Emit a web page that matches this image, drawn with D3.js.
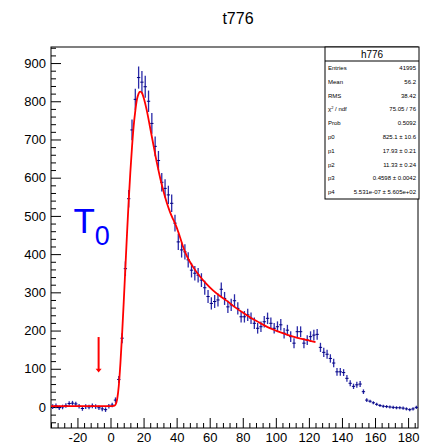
<!DOCTYPE html>
<html>
<head>
<meta charset="utf-8">
<script src="https://cdn.jsdelivr.net/npm/d3@7"></script>
<style>
    body { margin: 0; background: #fff; }
    svg { font-family: "Liberation Sans", Arial, sans-serif; }
</style>
</head>
<body>
<svg id="chart"></svg>
<script>
// histogram t776, 2-unit bins starting at -36
const binLow = -36;
const binWidth = 2;

const counts = [
    1, 3, -2, 0, 4, 9, 10, 8, 2, -4, 1, 0, 3, 1, -2, -5, -7, 2,
    5, 18, 72, 180, 362, 545, 725, 805, 862, 850, 838, 800, 742, 682, 645, 588,
    572, 555, 533, 481, 432, 411, 406, 385, 358, 350, 345, 332, 312, 289, 271, 276,
    280, 308, 284, 262, 267, 278, 258, 236, 236, 241, 232, 219, 206, 210, 223, 232,
    219, 206, 210, 215, 193, 201, 184, 167, 197, 197, 167, 175, 184, 188, 190, 156,
    143, 138, 127, 115, 92, 92, 90, 75, 62, 54, 58, 60, 40, 18, 15, 11,
    7, 4, 2, 1, 0, -1, -2, -2, -3, -5, -7, -5, -1
];

const errors = [
    6, 6, 6, 6, 6, 6, 6, 6, 6, 6, 6, 6, 6, 6, 6, 6, 6, 6,
    6, 7, 9, 13, 19, 23, 27, 28, 29, 29, 29, 28, 27, 26, 25, 24,
    24, 24, 23, 22, 21, 20, 20, 20, 19, 19, 19, 18, 18, 17, 16, 17,
    17, 18, 17, 16, 16, 17, 16, 15, 15, 16, 15, 15, 14, 14, 15, 15,
    15, 14, 14, 15, 14, 14, 14, 13, 14, 14, 13, 13, 14, 14, 14, 12,
    12, 12, 11, 11, 10, 10, 9, 9, 8, 7, 8, 8, 6, 5, 4, 4,
    4, 4, 4, 4, 4, 4, 4, 4, 4, 4, 4, 4, 4
];

// fit curve (x, y)
const fitX = [-36, -10, 0, 2, 3, 4, 5, 6, 7, 8, 9, 10, 11, 12, 13, 14, 15, 16, 17, 18, 19, 20,
    22, 24, 26, 28, 30, 32, 34, 36, 38, 40, 42, 44, 46, 48, 50, 54, 58, 62, 66, 70, 75,
    80, 85, 90, 95, 100, 105, 110, 115, 120, 124];
const fitY = [2, 2, 2, 3, 6, 20, 55, 115, 190, 275, 365, 455, 540, 615, 680, 735, 775, 805, 820, 825, 822, 810,
    775, 730, 685, 640, 600, 565, 535, 510, 490, 470, 445, 418, 397, 380, 366, 342, 322, 305, 291, 279, 262,
    247, 233, 221, 209, 200, 192, 185, 179, 174, 170];

const statLabels = ['Entries', 'Mean', 'RMS', 'chi2', 'Prob', 'p0', 'p1', 'p2', 'p3', 'p4'];
const statValues = ['41995', '56.2', '38.42', '75.05 / 76', '0.5092', '825.1 \u00b1 10.6',
    '17.93 \u00b1 0.21', '11.33 \u00b1 0.24', '0.4598 \u00b1 0.0042', '5.531e-07 \u00b1 5.605e+02'];

const W = 426, H = 447;
const frame = {left: 51, right: 418, top: 47, bottom: 428};

const svg = d3.select('#chart').attr('width', W).attr('height', H);

const x = d3.scaleLinear().domain([-36, 186]).range([frame.left, frame.right]);
const y = d3.scaleLinear().domain([-55, 942]).range([frame.bottom, frame.top]);

// title
svg.append('text')
    .attr('x', 238).attr('y', 24)
    .attr('text-anchor', 'middle')
    .style('font-size', '16px')
    .text('t776');

// minor ticks
const xMinor = d3.range(-36, 187, 4).filter(v => v % 20 !== 0);
const yMinor = d3.range(-40, 941, 20).filter(v => v % 100 !== 0);

svg.append('g')
    .attr('transform', `translate(0,${frame.bottom})`)
    .call(d3.axisBottom(x).tickValues(xMinor).tickSize(-5).tickFormat(''))
    .call(g => g.select('.domain').remove());

svg.append('g')
    .attr('transform', `translate(${frame.left},0)`)
    .call(d3.axisLeft(y).tickValues(yMinor).tickSize(-5).tickFormat(''))
    .call(g => g.select('.domain').remove());

// major ticks + labels (plain hyphen for negatives, like ROOT)
svg.append('g')
    .attr('transform', `translate(0,${frame.bottom})`)
    .call(d3.axisBottom(x).tickValues(d3.range(-20, 181, 20)).tickSize(-10).tickPadding(4.5)
        .tickFormat(d => String(d)))
    .call(g => g.select('.domain').remove())
    .call(g => g.selectAll('text').style('font-size', '13px').attr('fill', '#000'));

svg.append('g')
    .attr('transform', `translate(${frame.left},0)`)
    .call(d3.axisLeft(y).tickValues(d3.range(0, 901, 100)).tickSize(-10).tickPadding(5)
        .tickFormat(d => String(d)))
    .call(g => g.select('.domain').remove())
    .call(g => g.selectAll('text').style('font-size', '13px').attr('fill', '#000'));

// frame
svg.append('rect')
    .attr('x', frame.left).attr('y', frame.top)
    .attr('width', frame.right - frame.left)
    .attr('height', frame.bottom - frame.top)
    .attr('fill', 'none').attr('stroke', '#000').attr('stroke-width', 1);

const plot = svg.append('g');

// data points with error bars
const bins = counts.map((v, i) => ({
    c: binLow + binWidth * (i + 0.5),
    v: v,
    e: errors[i]
}));

plot.selectAll('.ebar')
    .data(bins)
    .join('line')
    .attr('class', 'ebar')
    .attr('x1', d => x(d.c)).attr('x2', d => x(d.c))
    .attr('y1', d => y(d.v - d.e)).attr('y2', d => y(d.v + d.e))
    .attr('stroke', '#2a2aa8').attr('stroke-width', 1.3);

plot.selectAll('.hbar')
    .data(bins)
    .join('line')
    .attr('class', 'hbar')
    .attr('x1', d => x(d.c - binWidth / 2)).attr('x2', d => x(d.c + binWidth / 2))
    .attr('y1', d => y(d.v)).attr('y2', d => y(d.v))
    .attr('stroke', '#000080').attr('stroke-width', 1);

// fit
const fitLine = d3.line()
    .x(d => x(d[0]))
    .y(d => y(d[1]))
    .curve(d3.curveMonotoneX);

plot.append('path')
    .datum(fitX.map((v, i) => [v, fitY[i]]))
    .attr('d', fitLine)
    .attr('fill', 'none')
    .attr('stroke', '#ff0000')
    .attr('stroke-width', 1.8);

// T0 label
const t0 = svg.append('text')
    .attr('x', x(-22.4)).attr('y', y(455))
    .attr('fill', '#0000ff')
    .style('font-size', '35px');
t0.append('tspan').text('T');
t0.append('tspan').attr('dy', 12).style('font-size', '27px').text('0');

// red arrow pointing down at t0
const arrowX = -7.2;
svg.append('line')
    .attr('x1', x(arrowX)).attr('x2', x(arrowX))
    .attr('y1', y(183)).attr('y2', y(96))
    .attr('stroke', '#ff0000').attr('stroke-width', 2);
svg.append('path')
    .attr('d', `M${x(arrowX) - 3},${y(100)} L${x(arrowX) + 3},${y(100)} L${x(arrowX)},${y(90)} Z`)
    .attr('fill', '#ff0000');

// stats box
const box = {x: 325, y: 47, w: 94, h: 152, head: 14};
const sb = svg.append('g');
sb.append('rect')
    .attr('x', box.x).attr('y', box.y).attr('width', box.w).attr('height', box.h)
    .attr('fill', '#fff').attr('stroke', '#000').attr('stroke-width', 1);
sb.append('line')
    .attr('x1', box.x).attr('x2', box.x + box.w)
    .attr('y1', box.y + box.head).attr('y2', box.y + box.head)
    .attr('stroke', '#000');
sb.append('text')
    .attr('x', box.x + box.w / 2).attr('y', box.y + 10.5)
    .attr('text-anchor', 'middle')
    .style('font-size', '10px')
    .text('h776');

const rowH = (box.h - box.head) / statLabels.length;
statLabels.forEach((lab, i) => {
    const ry = box.y + box.head + rowH * (i + 0.5) + 2;
    const t = sb.append('text')
        .attr('x', box.x + 3).attr('y', ry)
        .style('font-size', '6px');
    if (lab === 'chi2') {
        t.append('tspan').text('\u03c7');
        t.append('tspan').attr('dy', -2).style('font-size', '4px').text('2');
        t.append('tspan').attr('dy', 2).text(' / ndf');
    } else {
        t.text(lab);
    }
    sb.append('text')
        .attr('x', box.x + box.w - 3).attr('y', ry)
        .attr('text-anchor', 'end')
        .style('font-size', '6px')
        .text(statValues[i]);
});
</script>
</body>
</html>
